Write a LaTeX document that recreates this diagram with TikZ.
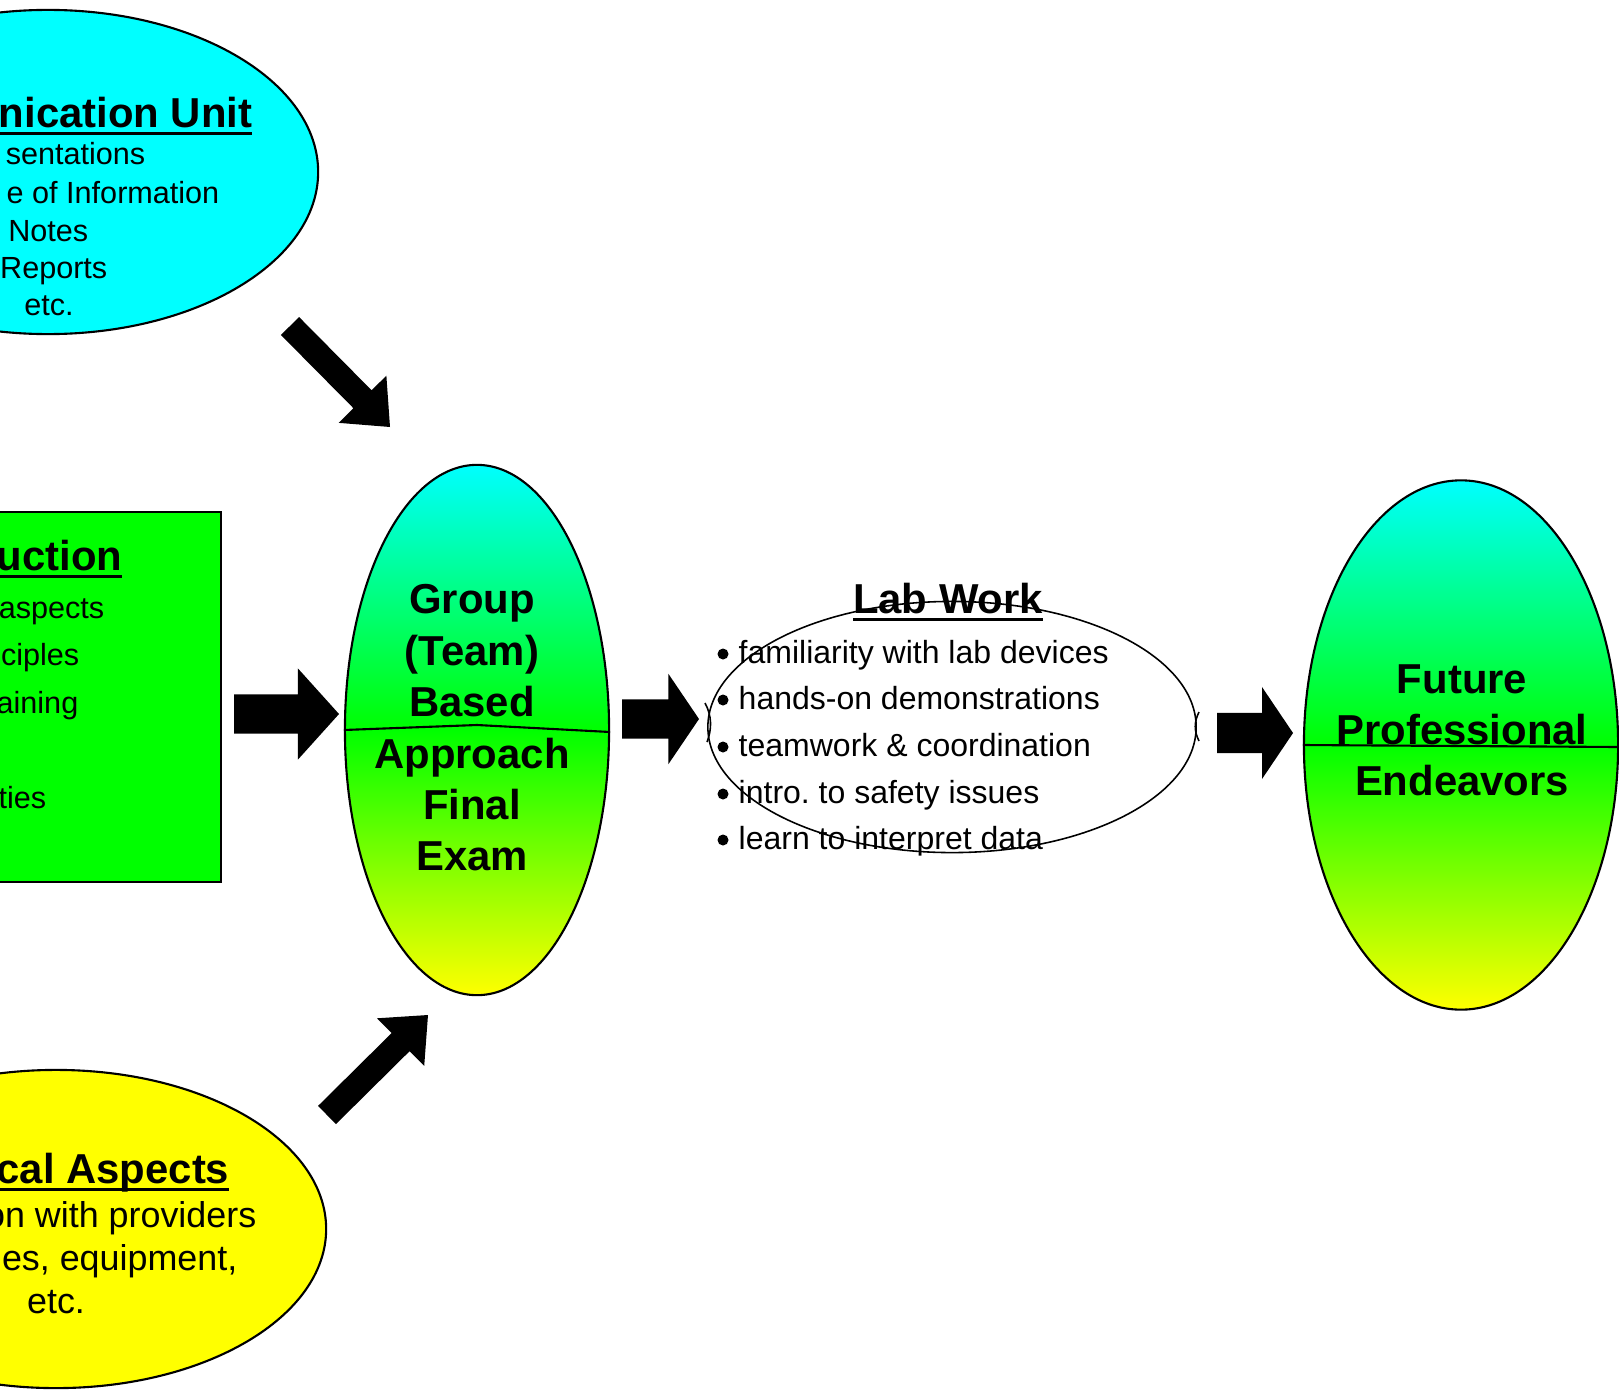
\documentclass[tikz,border=0pt]{standalone}
\usepackage{fontspec}
\setmainfont{Liberation Sans}
\usetikzlibrary{shapes.geometric,calc}

\definecolor{aqua}{RGB}{0,255,255}
\definecolor{lime}{RGB}{0,255,0}
\definecolor{lemon}{RGB}{255,255,0}

% heading underline: thick rule just below the baseline
\newcommand\headul[1]{\setbox0\hbox{#1}\rlap{\vrule width\wd0 height -1.4pt depth 2.4pt}\box0}
% block arrow: tail, tip, shaft half width, head half width, head length
\newcommand\blockarrow[5]{%
  \coordinate (ba-h) at ($(#2)!#5!(#1)$);
  \fill ($(#1)!#3!90:(#2)$) -- ($(ba-h)!#3!-90:(#1)$) -- ($(ba-h)!#4!-90:(#1)$) -- (#2)
    -- ($(ba-h)!#4!90:(#1)$) -- ($(ba-h)!#3!90:(#1)$) -- ($(#1)!#3!-90:(#2)$) -- cycle;}

\begin{document}
\begin{tikzpicture}[x=0.01cm,y=-0.01cm,
  headtxt/.style={font=\fontsize{11.9}{14}\selectfont\bfseries,inner sep=0pt},
  smalltxt/.style={font=\fontsize{8.7}{10}\selectfont,inner sep=0pt,anchor=base east},
  yeltxt/.style={font=\fontsize{10.2}{12}\selectfont,inner sep=0pt,anchor=base east},
  labtxt/.style={font=\fontsize{9.1}{11}\selectfont\frenchspacing,inner sep=0pt,anchor=base west},
  oval/.style={ellipse,draw,line width=0.6pt,inner sep=0pt},
  grad/.style={oval,top color=aqua,bottom color=lemon,middle color=lime}]
\useasboundingbox (0,0) rectangle (1619,1391);

% left column
\node[oval,fill=aqua,minimum width=5.4cm,minimum height=3.24cm] (comm) at (48,172) {};
\node[headtxt,anchor=base east] (comm-t) at (253,127) {\headul{nication Unit}};
\foreach \txt/\x/\y [count=\i] in {sentations/146/165,e of Information/220/203,Notes/89/241,Reports/108/278}
  \node[smalltxt] (comm-\i) at (\x,\y) {\txt};
\node[smalltxt,anchor=base] (comm-5) at (49,315) {etc.};

\node[draw,line width=0.6pt,fill=lime,minimum width=4cm,minimum height=3.7cm,anchor=east] (intro) at (222,697) {};
\node[headtxt,anchor=base east] (intro-t) at (123,570) {\headul{uction}};
\foreach \txt/\x/\y [count=\i] in {aspects/105/618,ciples/80/665,aining/79/713,ties/47/808}
  \node[smalltxt] (intro-\i) at (\x,\y) {\txt};

\node[oval,fill=lemon,minimum width=5.4cm,minimum height=3.18cm] (prac) at (56,1229) {};
\node[headtxt,anchor=base east] (prac-t) at (230,1183) {\headul{cal Aspects}};
\node[yeltxt] (prac-1) at (257,1227) {on with providers};
\node[yeltxt] (prac-2) at (238,1270) {es, equipment,};
\node[yeltxt,anchor=base] (prac-3) at (56,1313) {etc.};

% middle
\node[grad,minimum width=2.64cm,minimum height=5.3cm] (grp) at (477,730) {};
\draw[line width=0.6pt] (grp.west) -- ([yshift=0.05cm]grp.center) -- ([yshift=-0.02cm]grp.east);
\foreach \txt/\y [count=\i] in {Group/613,{(Team)}/665,Based/716,Approach/768,Final/819,Exam/870}
  \node[headtxt,anchor=base] (grp-\i) at (472,\y) {\txt};

\node[ellipse,draw,line width=0.45pt,inner sep=0pt,minimum width=4.88cm,minimum height=2.51cm] (lab) at (952,727) {};
\draw[line width=0.45pt] (705,703) .. controls (712,716) and (712,729) .. (707,742);
\draw[line width=0.45pt] (1199,712) .. controls (1194,722) and (1194,731) .. (1199,741);
\node[headtxt,anchor=base] (lab-t) at (948,613) {\headul{Lab Work}};
\foreach \txt/\y [count=\i] in {familiarity with lab devices/663,hands-on demonstrations/709,teamwork \& coordination/756,intro. to safety issues/803,learn to interpret data/849}{
  \node[labtxt] (lab-\i) at (738,\y) {\txt};
  \fill (723,\y-9) circle (0.055cm);
}

% right
\node[grad,minimum width=3.14cm,minimum height=5.29cm] (fut) at (1461,745) {};
\draw[line width=0.6pt] (fut.west) -- ([yshift=-0.02cm]fut.east);
\foreach \txt/\y [count=\i] in {Future/693,Professional/744,Endeavors/795}
  \node[headtxt,anchor=base] (fut-\i) at (1462,\y) {\txt};

% block arrows
\coordinate (a1s) at (290,326); \coordinate (a1e) at (390,427);
\coordinate (a2s) at (327,1115); \coordinate (a2e) at (428,1015);
\coordinate (a3s) at (234,714); \coordinate (a3e) at (339,714);
\coordinate (a4s) at (622,719); \coordinate (a4e) at (699,719);
\coordinate (a5s) at (1217,733); \coordinate (a5e) at (1293,733);
\blockarrow{a1s}{a1e}{0.1275cm}{0.335cm}{0.39cm}
\blockarrow{a2s}{a2e}{0.1275cm}{0.335cm}{0.385cm}
\blockarrow{a3s}{a3e}{0.195cm}{0.455cm}{0.41cm}
\blockarrow{a4s}{a4e}{0.195cm}{0.45cm}{0.305cm}
\blockarrow{a5s}{a5e}{0.2cm}{0.46cm}{0.31cm}
\end{tikzpicture}
\end{document}
